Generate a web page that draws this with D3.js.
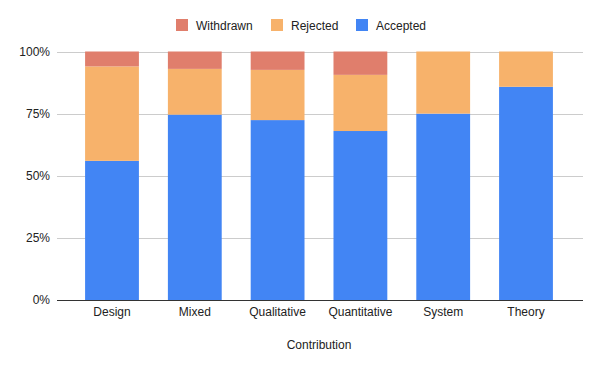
<!DOCTYPE html>
<html>
<head>
<meta charset="utf-8">
<script src="https://cdn.jsdelivr.net/npm/d3@7"></script>
<style>
  body { margin: 0; background: #fff; }
  text { font-family: "Liberation Sans", Arial, sans-serif; }
</style>
</head>
<body>
<div id="chart"></div>
<script>
var categories = ["Design", "Mixed", "Qualitative", "Quantitative", "System", "Theory"];
var accepted = [56.0, 74.6, 72.4, 68.0, 75.0, 85.8];
var rejected = [38.0, 18.4, 20.2, 22.6, 25.0, 14.2];
var withdrawn = [6.0, 7.0, 7.4, 9.4, 0, 0];
var yTicks = [0, 25, 50, 75, 100];

var w = 600;
var h = 371;

var svg = d3.select("#chart")
    .append("svg")
    .attr("width", w)
    .attr("height", h);

var x = d3.scaleBand()
    .domain(categories)
    .range([70.6, 567.4])
    .paddingInner(0.35)
    .paddingOuter(0.175);

var y = d3.scaleLinear()
    .domain([0, 100])
    .range([300, 51.5]);

// gridlines
svg.selectAll("line.grid")
    .data(yTicks.filter(function (d) { return d > 0; }))
    .enter()
    .append("line")
    .attr("class", "grid")
    .attr("x1", 57)
    .attr("x2", 583)
    .attr("y1", function (d) { return Math.round(y(d)) + 0.5; })
    .attr("y2", function (d) { return Math.round(y(d)) + 0.5; })
    .attr("stroke", "#cccccc")
    .attr("stroke-width", 1);

var yAxis = d3.axisLeft(y)
    .tickValues(yTicks)
    .tickFormat(function (d) { return d + "%"; })
    .tickSize(0)
    .tickPadding(7);

var gy = svg.append("g")
    .attr("transform", "translate(57,0)")
    .call(yAxis);
gy.select(".domain").remove();
gy.selectAll("text")
    .attr("font-size", 12)
    .attr("fill", "#222");

// stacked data
var rows = categories.map(function (c, i) {
    return { cat: c, Accepted: accepted[i], Rejected: rejected[i], Withdrawn: withdrawn[i] };
});
var keys = ["Accepted", "Rejected", "Withdrawn"];
var colors = { Accepted: "#4285f4", Rejected: "#f7b26b", Withdrawn: "#e07e6c" };
var stack = d3.stack().keys(keys)(rows);

svg.selectAll("g.series")
    .data(stack)
    .enter()
    .append("g")
    .attr("class", "series")
    .attr("fill", function (d) { return colors[d.key]; })
    .selectAll("rect")
    .data(function (d) { return d; })
    .enter()
    .append("rect")
    .attr("x", function (d) { return x(d.data.cat); })
    .attr("width", x.bandwidth())
    .attr("y", function (d) { return y(d[1]); })
    .attr("height", function (d) { return y(d[0]) - y(d[1]); });

// baseline
svg.append("line")
    .attr("x1", 57)
    .attr("x2", 583)
    .attr("y1", 300.5)
    .attr("y2", 300.5)
    .attr("stroke", "#333")
    .attr("stroke-width", 1);

var xAxis = d3.axisBottom(x).tickSize(0).tickPadding(7);
var gx = svg.append("g")
    .attr("transform", "translate(0,300)")
    .call(xAxis);
gx.select(".domain").remove();
gx.selectAll("text")
    .attr("font-size", 12)
    .attr("fill", "#222");

svg.append("text")
    .attr("x", 319)
    .attr("y", 349)
    .attr("text-anchor", "middle")
    .attr("font-size", 12)
    .attr("fill", "#222")
    .text("Contribution");

// legend
var legendItems = ["Withdrawn", "Rejected", "Accepted"];
var legendX = [176, 271, 356];
var lg = svg.selectAll("g.legend")
    .data(legendItems)
    .enter()
    .append("g")
    .attr("class", "legend")
    .attr("transform", function (d, i) { return "translate(" + legendX[i] + ",19)"; });
lg.append("rect")
    .attr("width", 12)
    .attr("height", 12)
    .attr("fill", function (d) { return colors[d]; });
lg.append("text")
    .attr("x", 20)
    .attr("y", 10.5)
    .attr("font-size", 12)
    .attr("fill", "#222")
    .text(function (d) { return d; });
</script>
</body>
</html>
